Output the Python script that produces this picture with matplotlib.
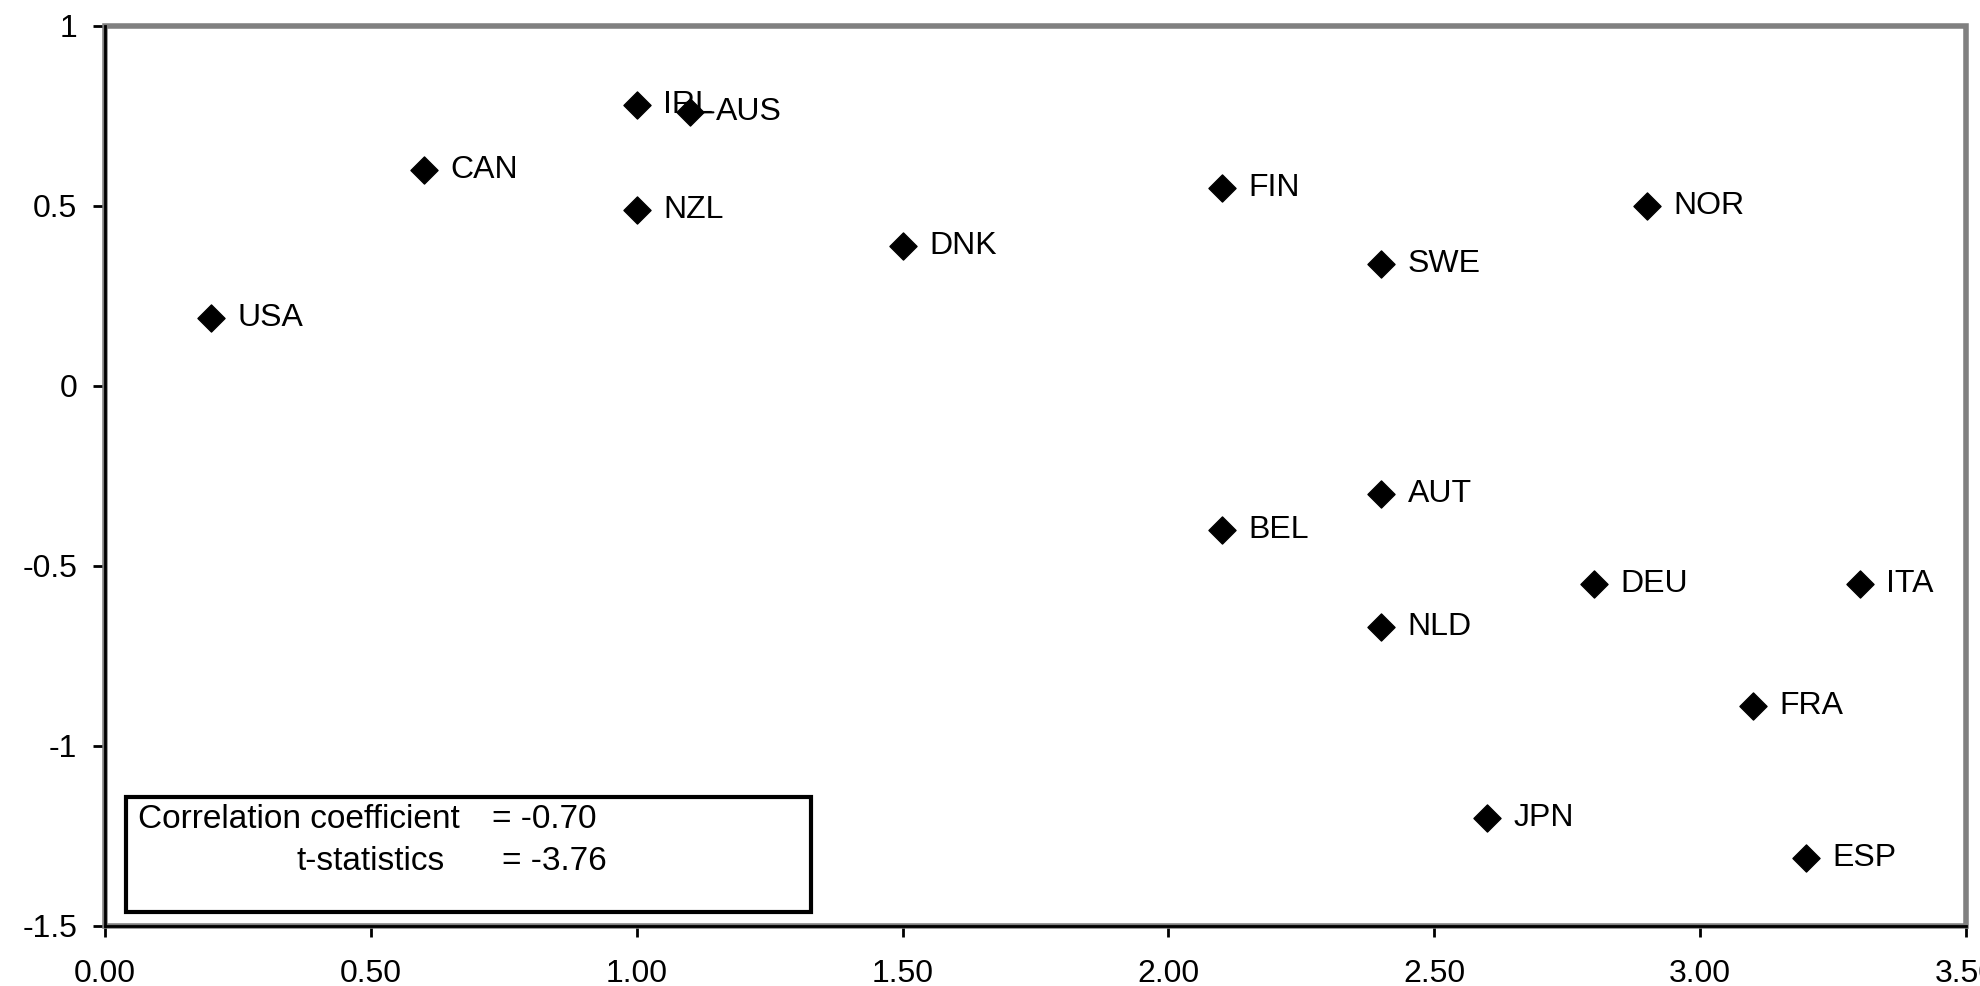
import numpy as np
import matplotlib
matplotlib.use('Agg')
import matplotlib.pyplot as plt
from matplotlib.patches import Rectangle

plt.rcParams['font.family'] = ['Liberation Sans', 'DejaVu Sans']
plt.rcParams['axes.unicode_minus'] = False

# Country data (x, y)
countries = ['USA', 'CAN', 'IRL', 'AUS', 'NZL', 'DNK', 'FIN', 'SWE', 'NOR',
             'AUT', 'BEL', 'DEU', 'ITA', 'NLD', 'FRA', 'JPN', 'ESP']
x_vals = [0.20, 0.60, 1.00, 1.10, 1.00, 1.50, 2.10, 2.40, 2.90,
          2.40, 2.10, 2.80, 3.30, 2.40, 3.10, 2.60, 3.20]
y_vals = [0.19, 0.60, 0.78, 0.76, 0.49, 0.39, 0.55, 0.34, 0.50,
          -0.30, -0.40, -0.55, -0.55, -0.67, -0.89, -1.20, -1.31]

xticks = [0.0, 0.5, 1.0, 1.5, 2.0, 2.5, 3.0, 3.5]
xtick_labels = ['0.00', '0.50', '1.00', '1.50', '2.00', '2.50', '3.00', '3.50']
yticks = [-1.5, -1.0, -0.5, 0.0, 0.5, 1.0]
ytick_labels = ['-1.5', '-1', '-0.5', '0', '0.5', '1']

stats_names = ['Correlation coefficient', 't-statistics']
stats_vals = ['= -0.70', '= -3.76']

fig = plt.figure(figsize=(19.8, 9.86), dpi=100)
ax = fig.add_axes([0.0530, 0.0609, 0.9399, 0.9128])

ax.scatter(x_vals, y_vals, marker='D', s=190, color='black', zorder=4)
for name, xv, yv in zip(countries, x_vals, y_vals):
    if name == 'AUS':
        # label was dragged in the original, leader line back to the point
        ax.annotate(name, (xv, yv), xytext=(19, 0), textcoords='offset points',
                    va='center', ha='left', fontsize=23, zorder=2,
                    arrowprops=dict(arrowstyle='-', color='black', lw=1.5,
                                    shrinkA=0, shrinkB=0))
    else:
        ax.annotate(name, (xv, yv), xytext=(19, 0), textcoords='offset points',
                    va='center', ha='left', fontsize=23, zorder=2)

ax.set_xlim(0, 3.5)
ax.set_ylim(-1.5, 1)
ax.set_xticks(xticks)
ax.set_xticklabels(xtick_labels)
ax.set_yticks(yticks)
ax.set_yticklabels(ytick_labels)
ax.tick_params(axis='x', length=8, width=2, pad=16, labelsize=23, colors='black')
ax.tick_params(axis='y', length=9, width=2, pad=11, labelsize=23, colors='black')

# Excel style frame: grey box, black axis lines
for s in ['top', 'right']:
    ax.spines[s].set_visible(False)
ax.add_patch(Rectangle((0, 0), 1, 1, transform=ax.transAxes, fill=False,
                       edgecolor='#808080', lw=4, clip_on=False, zorder=2))
ax.spines['left'].set_color('black')
ax.spines['bottom'].set_color('black')
ax.spines['left'].set_linewidth(2)
ax.spines['bottom'].set_linewidth(2)
ax.spines['left'].set_zorder(3)
ax.spines['bottom'].set_zorder(3)

# Statistics box
ax.add_patch(Rectangle((0.0113, 0.0156), 0.3680, 0.1274, transform=ax.transAxes,
                       fill=False, edgecolor='black', lw=3, zorder=5))
ax.text(0.0177, 0.1178, stats_names[0], transform=ax.transAxes, fontsize=24,
        va='center', ha='left')
ax.text(0.1032, 0.0711, stats_names[1], transform=ax.transAxes, fontsize=24,
        va='center', ha='left')
ax.text(0.2080, 0.1178, stats_vals[0], transform=ax.transAxes, fontsize=24,
        va='center', ha='left')
ax.text(0.2134, 0.0711, stats_vals[1], transform=ax.transAxes, fontsize=24,
        va='center', ha='left')

fig.savefig('out.png', dpi=100)
